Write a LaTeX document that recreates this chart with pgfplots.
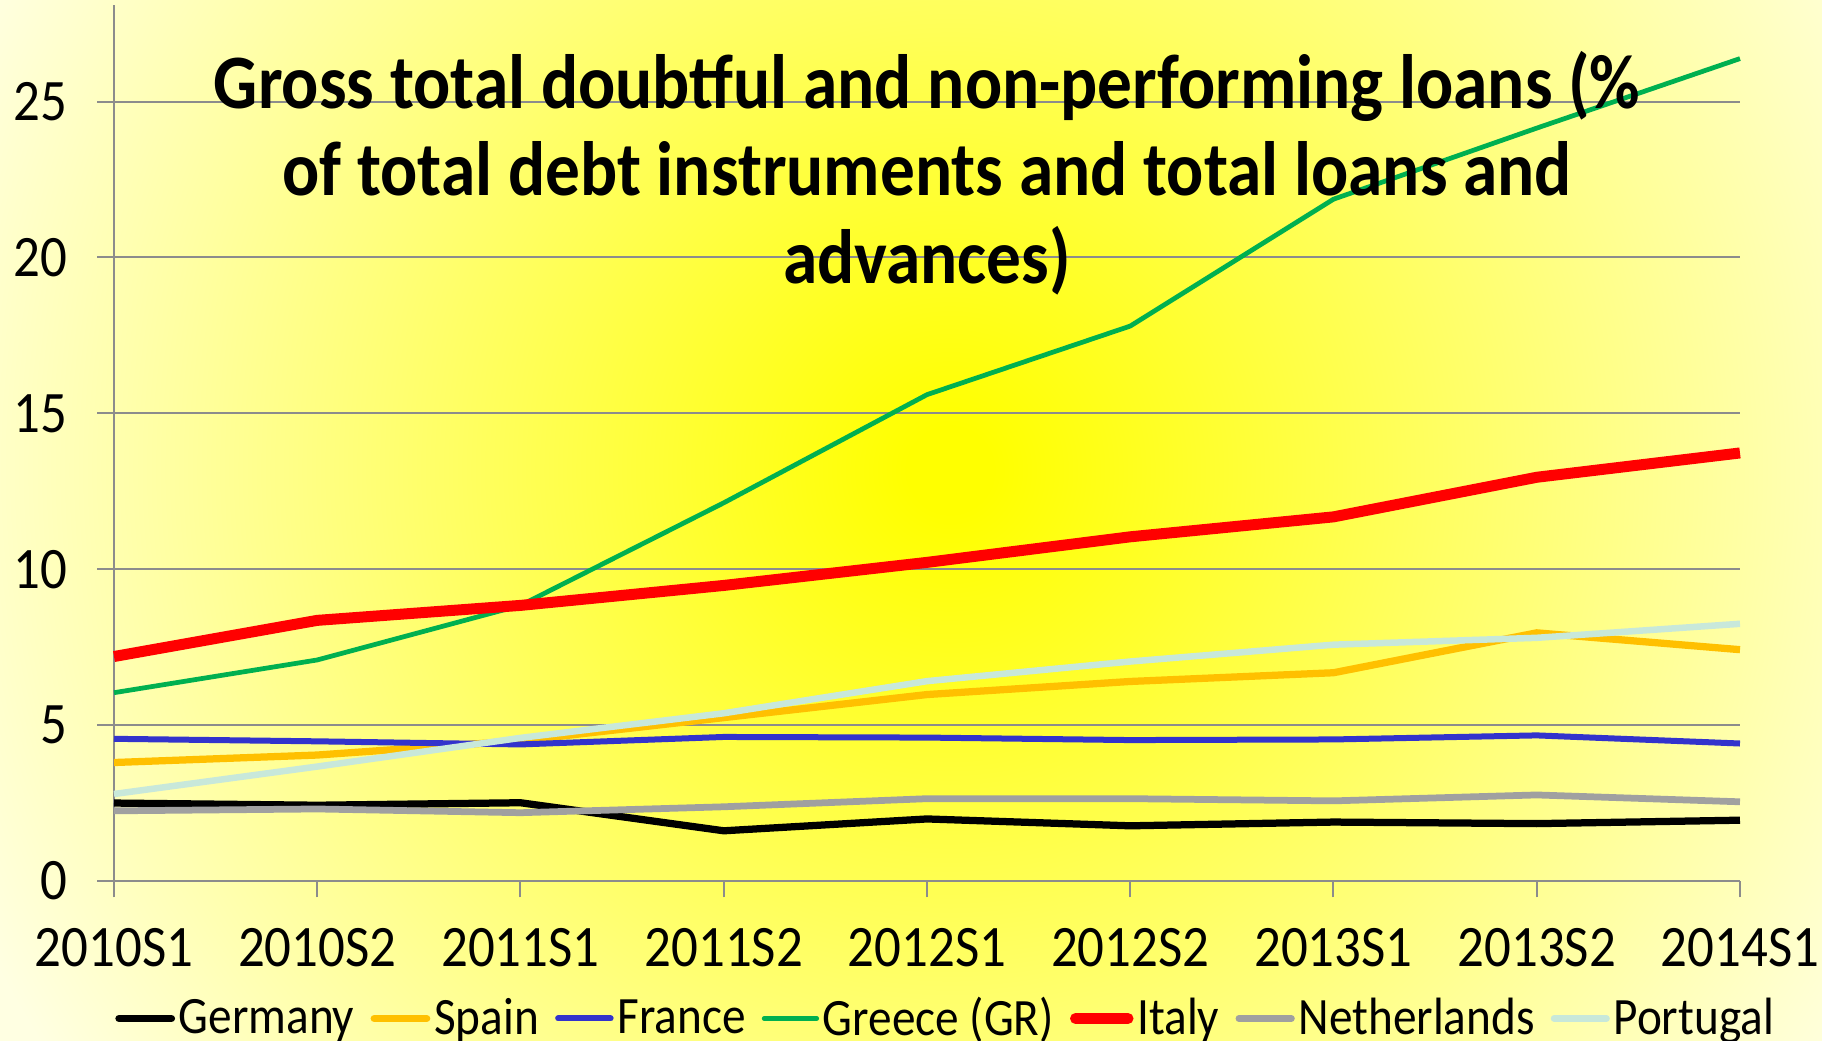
\documentclass[border=0pt]{standalone}
\usepackage{fontspec}
\setmainfont[FakeStretch=0.9]{Carlito}
\usepackage{pgfplots}
\usepackage{pgfplotstable}
\pgfplotsset{compat=1.18}

\definecolor{bgedge}{HTML}{FFFFE2}
\definecolor{gridgray}{HTML}{8C8C8C}
\definecolor{cDE}{HTML}{000000}
\definecolor{cES}{HTML}{FFC000}
\definecolor{cFR}{HTML}{3333CC}
\definecolor{cGR}{HTML}{00B050}
\definecolor{cIT}{HTML}{FF0000}
\definecolor{cNL}{HTML}{A0A0A0}
\definecolor{cPT}{HTML}{C8E8DA}

% tikz maps the path's box onto the middle 50bp, so the edge colour sits at 25bp
\pgfdeclareradialshading{glow}{\pgfpoint{0bp}{0bp}}{color(0bp)=(yellow); color(1bp)=(yellow); color(25bp)=(bgedge); color(50bp)=(bgedge)}

% half-year periods 2010S1 ... 2014S1 at x = 0..8
\pgfplotstableread{
x  DE    ES    FR    GR     IT     NL    PT
0  2.50  3.80  4.56  6.04   7.20   2.25  2.79
1  2.43  4.04  4.48  7.09   8.36   2.31  3.67
2  2.51  4.50  4.38  8.84   8.84   2.19  4.59
3  1.61  5.24  4.62  12.13  9.48   2.38  5.38
4  1.99  5.98  4.60  15.60  10.22  2.64  6.41
5  1.77  6.40  4.52  17.80  11.04  2.64  7.04
6  1.89  6.68  4.54  21.87  11.68  2.57  7.58
7  1.84  7.96  4.67  24.15  12.95  2.76  7.80
8  1.95  7.42  4.41  26.38  13.73  2.54  8.25
}\loans

\begin{document}
\begin{tikzpicture}
% background
\fill[bgedge] (-45.6pt,-64pt) rectangle (683.2pt,352.4pt);
\begin{scope}
\clip (-45.6pt,-64pt) rectangle (683.2pt,352.4pt);
\shade[shading=glow] (334.4pt,164.4pt) circle (430pt);
\end{scope}

\begin{axis}[
    at={(0pt,0pt)}, anchor=south west,
    scale only axis,
    width=650.4pt, height=350.4pt,
    xmin=0, xmax=8, ymin=0, ymax=28.1,
    axis x line=bottom, axis y line=left,
    axis line style={-, gridgray, line width=0.8pt},
    xtick=data,
    xticklabels={2010S1,2010S2,2011S1,2011S2,2012S1,2012S2,2013S1,2013S2,2014S1},
    ytick={0,5,...,25},
    ymajorgrids,
    major grid style={gridgray, line width=0.8pt},
    tick align=outside,
    major tick length=6.6pt,
    tick style={gridgray, line width=0.8pt},
    ticklabel style={font=\fontsize{23.5}{23.5}\selectfont, text=black},
    /pgf/number format/assume math mode=true,
    yticklabel style={xshift=-8.6pt},
    xticklabel style={yshift=-9pt},
    title={Gross total doubtful and non-performing loans (\%\\of total debt instruments and total loans and\\advances)},
    title style={at={(axis description cs:0.5,1)}, anchor=north, yshift=-21pt,
        align=center, font=\bfseries\fontsize{30.8}{35}\selectfont},
    legend columns=-1,
    legend style={at={(axis description cs:0.512,0)}, anchor=center, yshift=-55pt,
        draw=none, fill=none, font=\fontsize{21}{21}\selectfont,
        nodes={inner xsep=1.5pt},
        /tikz/every even column/.append style={column sep=5pt}},
    legend image code/.code={\draw[#1, line cap=round] (0pt,0pt) -- (21pt,0pt);},
    clip=false,
]
\addplot[cDE, line width=2.9pt] table[x=x, y=DE] {\loans};
\addlegendentry{Germany}
\addplot[cES, line width=2.9pt] table[x=x, y=ES] {\loans};
\addlegendentry{Spain}
\addplot[cFR, line width=2.4pt] table[x=x, y=FR] {\loans};
\addlegendentry{France}
\addplot[cGR, line width=1.9pt] table[x=x, y=GR] {\loans};
\addlegendentry{Greece (GR)}
\addplot[cIT, line width=4.4pt] table[x=x, y=IT] {\loans};
\addlegendentry{Italy}
\addplot[cNL, line width=2.7pt] table[x=x, y=NL] {\loans};
\addlegendentry{Netherlands}
\addplot[cPT, line width=2.6pt] table[x=x, y=PT] {\loans};
\addlegendentry{Portugal}
\end{axis}
\pgfresetboundingbox
\useasboundingbox (-45.6pt,-64pt) rectangle (683.2pt,352.4pt);
\end{tikzpicture}
\end{document}
